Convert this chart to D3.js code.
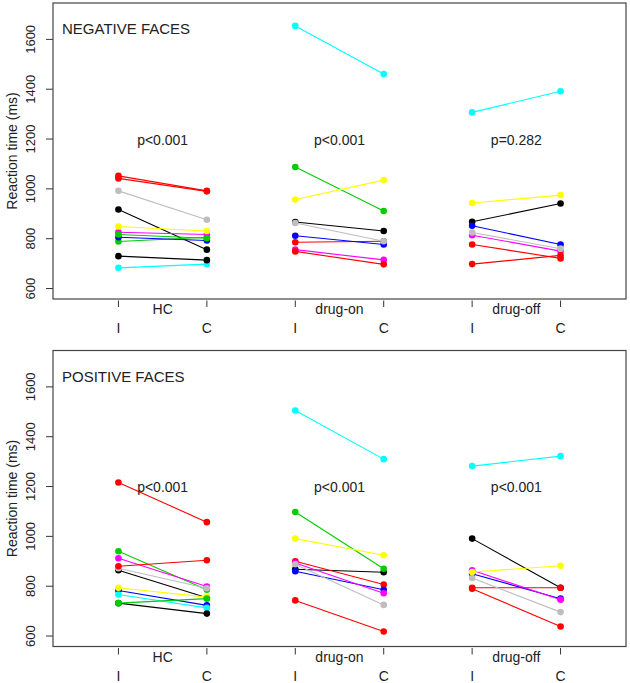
<!DOCTYPE html>
<html><head><meta charset="utf-8">
<script src="https://cdn.jsdelivr.net/npm/d3@7"></script>
<style>body{margin:0;background:#fff}svg{display:block}text{font-family:"Liberation Sans",Arial,sans-serif;fill:#222}</style>
</head><body><div id="chart"></div>
<script>
// ---- data ----
const groups = ["HC", "drug-on", "drug-off"];
const conditions = ["I", "C"];
const yTicks = [600, 800, 1000, 1200, 1400, 1600];
const panelTitles = ["NEGATIVE FACES", "POSITIVE FACES"];
const negPvalues = ["p<0.001", "p<0.001", "p=0.282"];
const posPvalues = ["p<0.001", "p<0.001", "p<0.001"];

const hcColors      = ["black","red","green","blue","cyan","magenta","yellow","gray","black","red","green"];
const drugOnColors  = ["black","red","green","blue","cyan","magenta","yellow","gray","red"];
const drugOffColors = ["black","red","blue","cyan","magenta","yellow","gray","red"];

// [I, C] per subject, same order as colour arrays
const negHC      = [[915,754],[1050,990],[787,804],[804,791],[681,696],[824,815],[847,829],[990,874],[728,712],[1040,988],[815,800]];
const negDrugOn  = [[865,829],[784,788],[1086,909],[810,775],[1652,1459],[754,713],[955,1033],[861,788],[747,695]];
const negDrugOff = [[866,939],[775,719],[850,775],[1305,1390],[812,748],[941,973],[823,758],[696,731]];

const posHC      = [[862,752],[1214,1055],[938,784],[781,721],[765,711],[910,797],[792,754],[870,790],[730,688],[878,902],[730,748]];
const posDrugOn  = [[866,854],[898,805],[1096,868],[858,784],[1503,1308],[891,770],[989,922],[886,723],[741,616]];
const posDrugOff = [[989,792],[792,792],[848,748],[1280,1320],[862,744],[855,880],[831,694],[788,636]];

const colorMap = {black:"#000000", red:"#ff0000", green:"#00cd00", blue:"#0000ff",
  cyan:"#00ffff", magenta:"#ff00ff", yellow:"#ffff00", gray:"#bebebe"};

// ---- layout ----
const W = 630, H = 683;
const left = 53, right = 626, panelH = 296;
const panelTops = [3, 350.5];

const svg = d3.select("#chart").append("svg").attr("width", W).attr("height", H);

const x = d3.scaleLinear().domain([0.26, 6.74]).range([left, right]);

const panels = [
  {title: panelTitles[0], p: negPvalues, data: [negHC, negDrugOn, negDrugOff]},
  {title: panelTitles[1], p: posPvalues, data: [posHC, posDrugOn, posDrugOff]}
];
const colorSets = [hcColors, drugOnColors, drugOffColors];

panels.forEach((panel, pi) => {
  const top = panelTops[pi], bottom = top + panelH;
  const y = d3.scaleLinear().domain([556, 1744]).range([bottom, top]);
  const g = svg.append("g");

  // y axis
  const ya = g.append("g").attr("transform", `translate(${left},0)`)
    .call(d3.axisLeft(y).tickValues(yTicks).tickSize(7).tickPadding(0).tickFormat(d3.format("d")));
  ya.select(".domain").remove();
  ya.selectAll(".tick line").attr("stroke", "#333");
  ya.selectAll(".tick text").each(function(){
    d3.select(this).attr("x", null).attr("dy", null).attr("text-anchor", "middle")
      .attr("transform", "translate(-18,0) rotate(-90)")
      .attr("font-size", 13).attr("fill", "#222");
  });

  g.append("text").attr("transform", `translate(17,${top + panelH/2}) rotate(-90)`)
    .attr("text-anchor", "middle").attr("font-size", 14).text("Reaction time (ms)");

  // lines + points
  panel.data.forEach((grp, gi) => {
    const xi = 1 + gi * 2, xc = 2 + gi * 2;
    grp.forEach((v, si) => {
      const col = colorMap[colorSets[gi][si]];
      g.append("line").attr("x1", x(xi)).attr("y1", y(v[0])).attr("x2", x(xc)).attr("y2", y(v[1]))
        .attr("stroke", col).attr("stroke-width", 1.1);
      g.append("circle").attr("cx", x(xi)).attr("cy", y(v[0])).attr("r", 3.3).attr("fill", col);
      g.append("circle").attr("cx", x(xc)).attr("cy", y(v[1])).attr("r", 3.3).attr("fill", col);
    });
    g.append("text").attr("x", (x(xi) + x(xc)) / 2).attr("y", y(1200) + 6)
      .attr("text-anchor", "middle").attr("font-size", 14).text(panel.p[gi]);
    g.append("text").attr("x", (x(xi) + x(xc)) / 2).attr("y", bottom + 15)
      .attr("text-anchor", "middle").attr("font-size", 14).text(groups[gi]);
    [xi, xc].forEach((xv, ci) => {
      g.append("line").attr("x1", x(xv)).attr("x2", x(xv)).attr("y1", bottom + 1.5).attr("y2", bottom + 8)
        .attr("stroke", "#333");
      g.append("text").attr("x", x(xv)).attr("y", bottom + 34).attr("text-anchor", "middle")
        .attr("font-size", 14).text(conditions[ci]);
    });
  });

  g.append("rect").attr("x", left).attr("y", top).attr("width", right - left).attr("height", panelH)
    .attr("fill", "none").attr("stroke", "#444").attr("stroke-width", 1.2);

  g.append("text").attr("x", 62).attr("y", top + 31).attr("font-size", 15).text(panel.title);
});
</script></body></html>
